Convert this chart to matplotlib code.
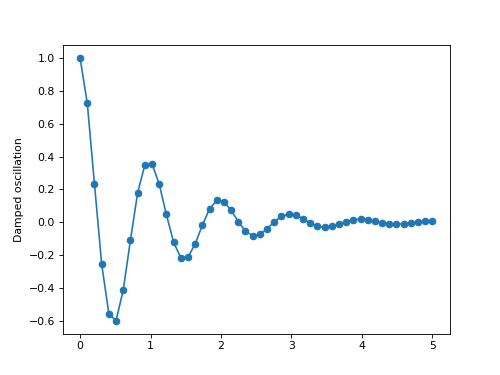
import matplotlib
matplotlib.use("Agg")
import matplotlib.pyplot as plt

# x positions of the samples (0 to 5, 50 points)
x_vals = [0.000, 0.102, 0.204, 0.306, 0.408, 0.510, 0.612, 0.714, 0.816, 0.918,
          1.020, 1.122, 1.224, 1.327, 1.429, 1.531, 1.633, 1.735, 1.837, 1.939,
          2.041, 2.143, 2.245, 2.347, 2.449, 2.551, 2.653, 2.755, 2.857, 2.959,
          3.061, 3.163, 3.265, 3.367, 3.469, 3.571, 3.673, 3.776, 3.878, 3.980,
          4.082, 4.184, 4.286, 4.388, 4.490, 4.592, 4.694, 4.796, 4.898, 5.000]

# damped oscillation values
y_vals = [1.000, 0.724, 0.232, -0.254, -0.557, -0.599, -0.413, -0.110, 0.179, 0.348,
          0.358, 0.233, 0.048, -0.122, -0.216, -0.213, -0.131, -0.018, 0.082, 0.133,
          0.126, 0.073, 0.004, -0.054, -0.082, -0.074, -0.040, 0.003, 0.036, 0.050,
          0.043, 0.022, -0.004, -0.023, -0.031, -0.025, -0.012, 0.004, 0.015, 0.019,
          0.015, 0.006, -0.003, -0.010, -0.011, -0.009, -0.003, 0.002, 0.006, 0.007]

fig, ax = plt.subplots(figsize=(6.4, 4.8), dpi=78.125)
ax.plot(x_vals, y_vals, "o-")
ax.set_ylabel("Damped oscillation")

plt.savefig("out.png", dpi=78.125)
